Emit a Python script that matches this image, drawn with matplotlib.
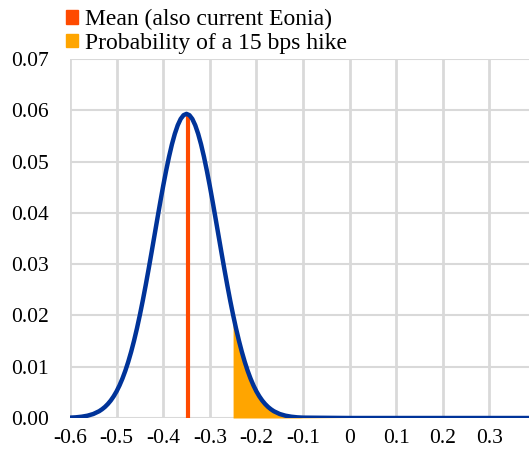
import matplotlib.pyplot as plt
from matplotlib.patches import Patch

# curve values (x in %, y density-like)
x_vals = [-0.6, -0.5875, -0.575, -0.5625, -0.55, -0.5375,
          -0.53125, -0.525, -0.51875, -0.5125, -0.50625, -0.5, -0.49375, -0.4875,
          -0.48125, -0.475, -0.46875, -0.4625, -0.45625, -0.45, -0.44375, -0.4375,
          -0.43125, -0.425, -0.41875, -0.4125, -0.40625, -0.4, -0.39375, -0.3875,
          -0.38125, -0.375, -0.36875, -0.3625, -0.35625, -0.35,
          -0.34375, -0.3375, -0.33125, -0.325, -0.31875, -0.3125, -0.30625, -0.3,
          -0.29375, -0.2875, -0.28125, -0.275, -0.26875, -0.2625, -0.25625, -0.25,
          -0.24375, -0.2375, -0.23125, -0.225, -0.21875, -0.2125, -0.20625, -0.2,
          -0.19375, -0.1875, -0.18125, -0.175, -0.16875,
          -0.1625, -0.15, -0.1375, -0.125, -0.1125, -0.1, 0.0, 0.1, 0.2, 0.3, 0.4]
y_vals = [0.00007, 0.00013, 0.00025, 0.00045, 0.00078, 0.00132,
          0.00170, 0.00216, 0.00273, 0.00341, 0.00423, 0.00520, 0.00635, 0.00768,
          0.00921, 0.01095, 0.01291, 0.01509, 0.01749, 0.02011, 0.02292, 0.02591,
          0.02904, 0.03228, 0.03557, 0.03887, 0.04212, 0.04526, 0.04821, 0.05093,
          0.05336, 0.05542, 0.05709, 0.05831, 0.05905, 0.0593,
          0.05905, 0.05831, 0.05709, 0.05542, 0.05336, 0.05093, 0.04821, 0.04526,
          0.04212, 0.03887, 0.03557, 0.03228, 0.02904, 0.02591, 0.02292, 0.02011,
          0.01749, 0.01509, 0.01291, 0.01095, 0.00921, 0.00768, 0.00635, 0.00520,
          0.00423, 0.00341, 0.00273, 0.00216, 0.00170,
          0.00132, 0.00078, 0.00045, 0.00025, 0.00013, 0.00007, 0.0, 0.0, 0.0, 0.0, 0.0]
mean_x = -0.346
mean_y = 0.0593
hike_from = -0.25

x_ticks = [-0.6, -0.5, -0.4, -0.3, -0.2, -0.1, 0, 0.1, 0.2, 0.3]
x_ticklabels = ['-0.6', '-0.5', '-0.4', '-0.3', '-0.2', '-0.1', '0', '0.1', '0.2', '0.3']
y_ticks = [0.0, 0.01, 0.02, 0.03, 0.04, 0.05, 0.06, 0.07]
y_ticklabels = ['0.00', '0.01', '0.02', '0.03', '0.04', '0.05', '0.06', '0.07']

plt.rcParams['font.family'] = ['Liberation Serif', 'DejaVu Serif']

fig = plt.figure(figsize=(5.29, 4.5), dpi=100)
ax = fig.add_axes([0.1323, 0.0711, 0.8677, 0.7978])

blue = '#003399'
red = '#FF4A00'
orange = '#FFA500'
grid = '#D9D9D9'

for xt in x_ticks:
    ax.axvline(xt, color=grid, lw=2, zorder=0)
for yt in y_ticks:
    ax.axhline(yt, color=grid, lw=1.5, zorder=0)

fx = [x for x in x_vals if x >= hike_from]
fy = [y for x, y in zip(x_vals, y_vals) if x >= hike_from]
ax.fill_between(fx, 0, fy, color=orange, lw=0, zorder=2)
ax.plot([mean_x, mean_x], [0, mean_y], color=red, lw=3, zorder=3, solid_capstyle='butt')
ax.plot(x_vals, y_vals, color=blue, lw=3.2, zorder=4, solid_capstyle='round')

ax.set_xlim(-0.6, 0.385)
ax.set_ylim(0, 0.07)
ax.set_xticks(x_ticks)
ax.set_xticklabels(x_ticklabels)
ax.set_yticks(y_ticks)
ax.set_yticklabels(y_ticklabels)
ax.tick_params(length=0, labelsize=15.5)
ax.tick_params(axis='y', pad=15)
ax.tick_params(axis='x', pad=8)
for s in ax.spines.values():
    s.set_visible(False)

handles = [Patch(color=red), Patch(color=orange)]
labels = ['Mean (also current Eonia)', 'Probability of a 15 bps hike']
fig.legend(handles, labels, loc='upper left', bbox_to_anchor=(66 / 529, 1 - 9 / 450),
           frameon=False, fontsize=17, handlelength=0.5, handleheight=0.5,
           handletextpad=0.3, labelspacing=0.12, borderpad=0, borderaxespad=0)

fig.savefig('out.png', dpi=100)
